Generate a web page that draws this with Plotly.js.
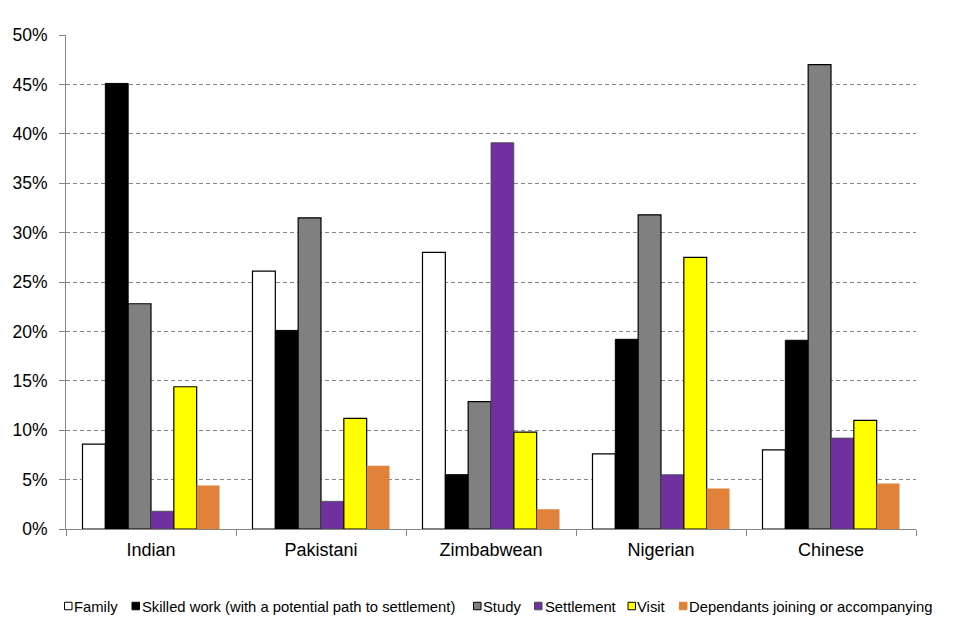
<!DOCTYPE html>
<html>
<head>
<meta charset="utf-8">
<script src="https://cdn.plot.ly/plotly-3.0.1.min.js"></script>
<style>html,body{margin:0;padding:0;background:#fff;}#chart{width:960px;height:640px;}</style>
</head>
<body>
<div id="chart"></div>
<script>
// ---- data ----
const categories = ["Indian", "Pakistani", "Zimbabwean", "Nigerian", "Chinese"];
const seriesNames = ["Family", "Skilled work (with a potential path to settlement)", "Study", "Settlement", "Visit", "Dependants joining or accompanying"];
const family     = [8.6, 26.1, 28.0, 7.6, 8.0];
const skilled    = [45.1, 20.1, 5.5, 19.2, 19.1];
const study      = [22.8, 31.5, 12.9, 31.8, 47.0];
const settlement = [1.8, 2.8, 39.1, 5.5, 9.2];
const visit      = [14.4, 11.2, 9.8, 27.5, 11.0];
const dependants = [4.4, 6.4, 2.0, 4.1, 4.6];
const yTickVals  = [0, 5, 10, 15, 20, 25, 30, 35, 40, 45, 50];
const yTickText  = ["0%", "5%", "10%", "15%", "20%", "25%", "30%", "35%", "40%", "45%", "50%"];

// ---- styles ----
const fills = ["#FFFFFF", "#000000", "#808080", "#7030A0", "#FFFF00", "#E0823A"];
const lineColors = ["#000000", "#000000", "#000000", "#4a4a4a", "#000000", "#E0823A"];
const lineWidths = [1.2, 1, 1.2, 0.8, 1.2, 0];
const values = [family, skilled, study, settlement, visit, dependants];

const traces = values.map((v, i) => ({
  type: "bar",
  name: seriesNames[i],
  x: categories,
  y: v,
  marker: { color: fills[i], line: { color: lineColors[i], width: lineWidths[i] } },
  showlegend: false,
  hoverinfo: "x+y+name"
}));

// custom legend (layout decoration), pixel positions measured from reference
const W = 960, H = 640, L = 66, R = 44, T = 35, B = 111;
const pw = W - L - R, ph = H - T - B;
const legendSquareX = [64.5, 132, 473.5, 534.5, 628, 679.5];
const legendTextX   = [73, 141, 482, 544, 635.5, 688];
const legendY = 606;
const px2x = p => (p - L) / pw;
const py2y = p => (H - B - p) / ph;

const shapes = [], annotations = [];
seriesNames.forEach((n, i) => {
  shapes.push({
    type: "rect", xref: "paper", yref: "paper",
    xsizemode: "pixel", ysizemode: "pixel",
    xanchor: px2x(legendSquareX[i]), yanchor: py2y(legendY),
    x0: 0, x1: 7.5, y0: -3.75, y1: 3.75,
    fillcolor: fills[i],
    line: { color: i === 5 ? fills[i] : (i === 3 ? "#4a4a4a" : "#000000"), width: 1 }
  });
  annotations.push({
    xref: "paper", yref: "paper",
    x: px2x(legendTextX[i]), y: py2y(legendY + 0.5),
    xanchor: "left", yanchor: "middle", showarrow: false,
    text: n, borderpad: 0,
    font: { family: "Liberation Sans, Arial, sans-serif", size: 14.8, color: "#000" }
  });
});

const layout = {
  width: W, height: H,
  margin: { l: L, r: R, t: T, b: B, pad: 0 },
  paper_bgcolor: "#ffffff", plot_bgcolor: "#ffffff",
  font: { family: "Liberation Sans, Arial, sans-serif", size: 18, color: "#000" },
  barmode: "group",
  bargap: 0.194,
  bargroupgap: 0,
  showlegend: false,
  xaxis: {
    type: "category",
    showline: true, linecolor: "#868686", linewidth: 1,
    ticks: "outside", tickson: "boundaries", ticklen: 6, tickcolor: "#868686",
    showgrid: false, zeroline: false,
    ticklabelstandoff: 4,
    tickfont: { size: 18 }
  },
  yaxis: {
    range: [0, 50],
    tickvals: yTickVals, ticktext: yTickText,
    showline: true, linecolor: "#868686", linewidth: 1,
    ticks: "outside", ticklen: 6, tickcolor: "#868686",
    showgrid: true, gridcolor: "#868686", griddash: "4px,3px", gridwidth: 1,
    zeroline: false,
    ticklabelstandoff: 8,
    tickfont: { size: 17.5 }
  },
  shapes: shapes,
  annotations: annotations
};

Plotly.newPlot("chart", traces, layout, { displayModeBar: false, staticPlot: true });
</script>
</body>
</html>
